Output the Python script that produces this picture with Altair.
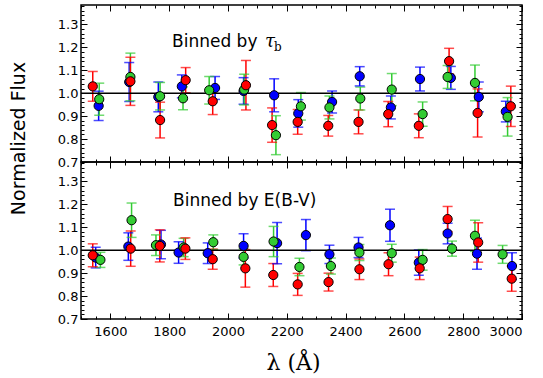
import altair as alt
import pandas as pd

SERIES = ["blue", "green", "red"]
COLORS = ["#0000ff", "#33cc33", "#ff0000"]

# ---- Panel 1: binned by tau_b ----
tau_blue_wl = [1560, 1664, 1763, 1843, 1956, 2053, 2157, 2239, 2354, 2448, 2554, 2653, 2758, 2853, 2945]
tau_blue_val = [0.945, 1.049, 0.984, 1.030, 1.023, 1.010, 0.991, 0.912, 0.962, 1.074, 0.938, 1.062, 1.067, 0.984, 0.920]
tau_blue_err = [0.064, 0.085, 0.065, 0.050, 0.050, 0.058, 0.072, 0.060, 0.048, 0.042, 0.050, 0.052, 0.050, 0.065, 0.045]

tau_green_wl = [1562, 1668, 1769, 1847, 1936, 2055, 2163, 2248, 2345, 2450, 2557, 2662, 2747, 2840, 2951]
tau_green_val = [0.974, 1.071, 0.987, 0.978, 1.013, 1.016, 0.817, 0.943, 0.938, 0.977, 1.016, 0.909, 1.071, 1.045, 0.897]
tau_green_err = [0.070, 0.104, 0.060, 0.050, 0.060, 0.067, 0.085, 0.060, 0.050, 0.050, 0.070, 0.053, 0.050, 0.078, 0.084]

tau_red_wl = [1540, 1668, 1769, 1856, 1948, 2061, 2150, 2237, 2341, 2444, 2545, 2649, 2752, 2849, 2962]
tau_red_val = [1.030, 1.052, 0.883, 1.057, 0.965, 1.035, 0.861, 0.875, 0.858, 0.875, 0.909, 0.858, 1.140, 0.914, 0.943]
tau_red_err = [0.065, 0.105, 0.078, 0.055, 0.058, 0.108, 0.075, 0.054, 0.045, 0.052, 0.055, 0.052, 0.056, 0.105, 0.088]

# ---- Panel 2: binned by E(B-V) ----
ebv_blue_wl = [1550, 1661, 1772, 1832, 1931, 2053, 2167, 2265, 2345, 2444, 2551, 2649, 2747, 2847, 2966]
ebv_blue_val = [0.968, 1.016, 1.025, 0.990, 0.987, 1.019, 1.031, 1.066, 0.982, 1.012, 1.109, 0.946, 1.073, 0.985, 0.931]
ebv_blue_err = [0.045, 0.060, 0.062, 0.047, 0.045, 0.053, 0.090, 0.068, 0.040, 0.044, 0.070, 0.055, 0.045, 0.068, 0.058]

ebv_green_wl = [1566, 1672, 1755, 1849, 1950, 2053, 2155, 2243, 2350, 2447, 2557, 2662, 2762, 2840, 2934]
ebv_green_val = [0.958, 1.131, 1.022, 1.012, 1.035, 0.971, 1.038, 0.927, 0.931, 0.990, 0.987, 0.958, 1.007, 1.063, 0.982]
ebv_green_err = [0.033, 0.075, 0.045, 0.040, 0.032, 0.035, 0.066, 0.038, 0.035, 0.035, 0.039, 0.045, 0.033, 0.068, 0.039]

ebv_red_wl = [1540, 1669, 1768, 1855, 1948, 2059, 2154, 2237, 2342, 2447, 2546, 2652, 2747, 2851, 2965]
ebv_red_val = [0.978, 1.007, 1.019, 1.007, 0.961, 0.921, 0.892, 0.851, 0.861, 0.917, 0.939, 0.921, 1.136, 1.034, 0.876]
ebv_red_err = [0.050, 0.077, 0.070, 0.047, 0.044, 0.082, 0.050, 0.048, 0.039, 0.045, 0.050, 0.049, 0.055, 0.086, 0.055]

X_MAJOR = [1600, 1800, 2000, 2200, 2400, 2600, 2800, 3000]
X_MINOR = [1500 + 50 * i for i in range(31)]
Y_MAJOR = [0.7, 0.8, 0.9, 1.0, 1.1, 1.2, 1.3]
Y_MINOR = [round(0.7 + 0.02 * i, 2) for i in range(35)]
REF_LEVEL = [1.0]

W, H = 441, 157
FONT = "DejaVu Sans"


def make_df(wls, vals, errs):
    rows = []
    for s, w, v, e in zip(SERIES, wls, vals, errs):
        for wi, vi, ei in zip(w, v, e):
            rows.append(dict(series=s, wl=wi, val=vi, lo=vi - ei, hi=vi + ei))
    return pd.DataFrame(rows)


xs = alt.Scale(domain=[1500, 3000], nice=False, zero=False)
ys = alt.Scale(domain=[0.7, 1.385], nice=False, zero=False)
cs = alt.Scale(domain=SERIES, range=COLORS)
color = alt.Color("series:N", scale=cs, legend=None)


def tick_axis(orient, values, size):
    return alt.Axis(orient=orient, values=values, tickSize=size, offset=-size,
                    labels=False, domain=False, grid=False, title=None,
                    tickColor="black", tickWidth=1)


def panel(df, label_parts, bottom):
    if bottom:
        xmain = alt.Axis(orient="bottom", values=X_MAJOR, format="d", ticks=False,
                         domain=False, grid=False, title="λ (Å)", labelFontSize=13,
                         labelFont=FONT, labelPadding=6, labelColor="black",
                         titleFont="DejaVu Serif", titleFontSize=22,
                         titleFontWeight="normal", titlePadding=14,
                         titleColor="black", titleX=212)
        ymain = alt.Axis(orient="left", values=Y_MAJOR, format=".1f", ticks=False,
                         domain=False, grid=False, title=None, labelFontSize=13,
                         labelFont=FONT, labelPadding=3, labelColor="black")
    else:
        xmain = alt.Axis(orient="bottom", values=X_MAJOR, labels=False, ticks=False,
                         domain=False, grid=False, title=None)
        ymain = alt.Axis(orient="left", values=Y_MAJOR, format=".1f", ticks=False,
                         domain=False, grid=False, title="Normalized Flux",
                         labelFontSize=13, labelFont=FONT, labelPadding=3,
                         labelColor="black", titleFont=FONT,
                         titleFontSize=19, titleFontWeight="normal", titleColor="black",
                         titleX=-63, titleY=133, titleBaseline="middle", titleAlign="center",
                         titleAngle=270)

    base = alt.Chart(df)
    bars = base.mark_rule(strokeWidth=1.5).encode(
        x=alt.X("wl:Q", scale=xs, axis=xmain),
        y=alt.Y("lo:Q", scale=ys, axis=ymain),
        y2="hi:Q",
        color=color,
    )
    cap_hi = base.mark_tick(orient="horizontal", size=10, thickness=1.5).encode(
        x=alt.X("wl:Q", scale=xs, axis=tick_axis("bottom", X_MAJOR, 6)),
        y=alt.Y("hi:Q", scale=ys, axis=tick_axis("left", Y_MAJOR, 6)),
        color=color,
    )
    cap_lo = base.mark_tick(orient="horizontal", size=10, thickness=1.5).encode(
        x=alt.X("wl:Q", scale=xs, axis=tick_axis("bottom", X_MINOR, 3)),
        y=alt.Y("lo:Q", scale=ys, axis=tick_axis("left", Y_MINOR, 3)),
        color=color,
    )
    ref = alt.Chart(pd.DataFrame({"ref": REF_LEVEL})).mark_rule(
        color="black", strokeWidth=1.5
    ).encode(y=alt.Y("ref:Q", scale=ys, axis=None))
    pts = base.mark_circle(size=85, opacity=1, stroke="black", strokeWidth=1).encode(
        x=alt.X("wl:Q", scale=xs, axis=tick_axis("top", X_MAJOR, 6)),
        y=alt.Y("val:Q", scale=ys, axis=tick_axis("right", Y_MAJOR, 6)),
        color=color,
    )
    ghost = base.mark_circle(size=1, opacity=0).encode(
        x=alt.X("wl:Q", scale=xs, axis=tick_axis("top", X_MINOR, 3)),
        y=alt.Y("val:Q", scale=ys, axis=tick_axis("right", Y_MINOR, 3)),
    )
    layers = [bars, cap_hi, cap_lo, ref, pts, ghost]
    for (txt, xpos, ypos, font, size, style) in label_parts:
        layers.append(
            alt.Chart(pd.DataFrame({"t": [txt]})).mark_text(
                align="left", baseline="alphabetic", font=font, fontSize=size,
                fontStyle=style, color="black"
            ).encode(text="t:N", x=alt.value(xpos), y=alt.value(ypos))
        )
    return alt.layer(*layers).resolve_axis(x="independent", y="independent").properties(
        width=W, height=H
    )


df_tau = make_df([tau_blue_wl, tau_green_wl, tau_red_wl],
                 [tau_blue_val, tau_green_val, tau_red_val],
                 [tau_blue_err, tau_green_err, tau_red_err])
df_ebv = make_df([ebv_blue_wl, ebv_green_wl, ebv_red_wl],
                 [ebv_blue_val, ebv_green_val, ebv_red_val],
                 [ebv_blue_err, ebv_green_err, ebv_red_err])

top = panel(df_tau, [
    ("Binned by", 91, 42, FONT, 17, "normal"),
    ("τ", 184, 42, "DejaVu Serif", 18, "italic"),
    ("b", 193, 46, "DejaVu Serif", 12, "normal"),
], bottom=False)
bot = panel(df_ebv, [
    ("Binned by E(B-V)", 92, 44, FONT, 17, "normal"),
], bottom=True)

chart = alt.vconcat(top, bot, spacing=0, bounds="flush").properties(
    padding={"left": 8, "top": 3, "right": 5, "bottom": 5}
).configure_view(stroke="black", strokeWidth=1.5).configure_axis(
    labelFont=FONT, titleFont=FONT
)

chart.save("out.html", embed_options={"renderer": "svg", "actions": False})
